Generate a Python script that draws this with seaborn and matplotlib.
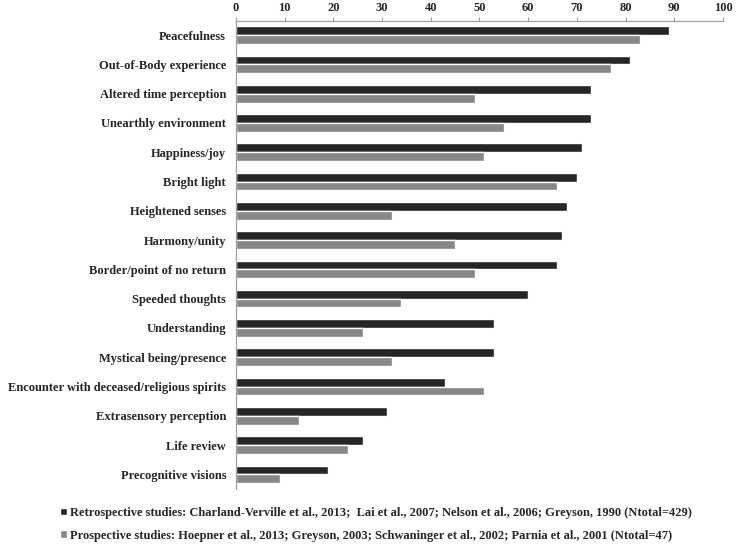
import numpy as np
import pandas as pd
import matplotlib
matplotlib.use("Agg")
import matplotlib.pyplot as plt
import seaborn as sns
from matplotlib.ticker import FixedLocator

# Datos
experiencias = [
    "Peacefulness", "Out-of-Body experience", "Altered time perception",
    "Unearthly environment", "Happiness/joy", "Bright light",
    "Heightened senses", "Harmony/unity", "Border/point of no return",
    "Speeded thoughts", "Understanding", "Mystical being/presence",
    "Encounter with deceased/religious spirits", "Extrasensory perception",
    "Life review", "Precognitive visions",
]
retrospectivos = [89, 81, 73, 73, 71, 70, 68, 67, 66, 60, 53, 53, 43, 31, 26, 19]
prospectivos = [83, 77, 49, 55, 51, 66, 32, 45, 49, 34, 26, 32, 51, 13, 23, 9]

etiqueta_retro = ("Retrospective studies: Charland-Verville et al., 2013;  Lai et al., 2007; "
                  "Nelson et al., 2006; Greyson, 1990 (Ntotal=429)")
etiqueta_pros = ("Prospective studies: Hoepner et al., 2013; Greyson, 2003; "
                 "Schwaninger et al., 2002; Parnia et al., 2001 (Ntotal=47)")

df = pd.DataFrame({
    "experiencia": experiencias * 2,
    "porcentaje": retrospectivos + prospectivos,
    "estudio": [etiqueta_retro] * len(experiencias) + [etiqueta_pros] * len(experiencias),
})

sns.set_style("white")
plt.rcParams["font.family"] = ["Liberation Serif", "DejaVu Serif"]
plt.rcParams["font.weight"] = "bold"

fig, ax = plt.subplots(figsize=(7.37, 5.47), dpi=100)
fig.subplots_adjust(left=0.32, right=0.981, top=0.9625, bottom=0.106)

sns.barplot(data=df, y="experiencia", x="porcentaje", hue="estudio",
            palette=["#262626", "#878787"], width=0.6, orient="h",
            saturation=1, ax=ax, legend=True)

ax.set_xlim(0, 100)
ax.set_xticks(range(0, 101, 10))
ax.xaxis.tick_top()
ax.set_xlabel("")
ax.set_ylabel("")
ax.set_ylim(len(experiencias) - 0.5, -0.5)

for s in ["right", "bottom"]:
    ax.spines[s].set_visible(False)
for s in ["top", "left"]:
    ax.spines[s].set_color("#a0a0a0")
    ax.spines[s].set_linewidth(0.9)

ax.tick_params(axis="x", labelsize=9, length=3, color="#a0a0a0", pad=2)
ax.tick_params(axis="y", which="major", length=0, labelsize=9, pad=7)
ax.yaxis.set_minor_locator(FixedLocator(np.arange(-0.5, len(experiencias), 1)))
ax.tick_params(axis="y", which="minor", length=3, color="#a0a0a0")
for lab in ax.get_xticklabels() + ax.get_yticklabels():
    lab.set_fontweight("bold")

handles, labels = ax.get_legend_handles_labels()
ax.get_legend().remove()
fig.legend(handles, labels, loc="upper left", bbox_to_anchor=(0.082, 1 - 507 / 547),
           borderaxespad=0, borderpad=0, frameon=False, handlelength=0.55,
           handleheight=0.55, handletextpad=0.2, labelspacing=0.85,
           prop={"size": 9, "weight": "bold"})

fig.savefig("out.png", dpi=100)
